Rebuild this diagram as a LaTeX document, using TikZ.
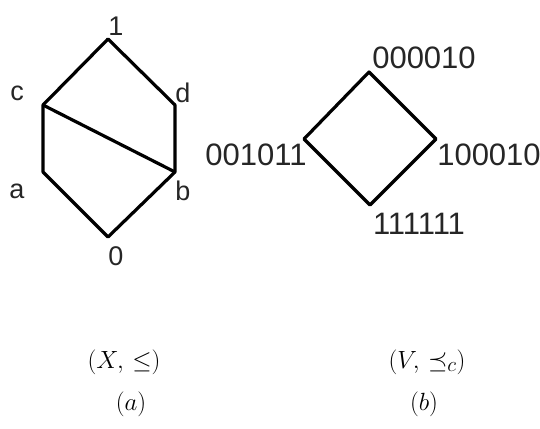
\documentclass[tikz,border=0pt]{standalone}
\usepackage{amsmath,amssymb}
\usepackage{fontspec}
\setsansfont{Liberation Sans}
\usepackage{tikz}
\usetikzlibrary{positioning,calc}
\usepackage{xcolor}

\begin{document}
\begin{tikzpicture}[x=1pt,y=-1pt,line width=3.2pt,
  elem/.style={font=\sffamily\fontsize{27}{31}\selectfont,text=black!85,inner sep=0pt},
  word/.style={font=\sffamily\fontsize{31}{36}\selectfont,text=black!85,inner sep=0pt},
  caption/.style={font=\fontsize{31}{37}\selectfont,inner sep=0pt}]
\useasboundingbox (0,0) rectangle (540,428);
% (a) the lattice X
\coordinate (one) at (108,39);
\coordinate (c) at (43,105);
\coordinate (d) at (175,105);
\coordinate (a) at (43,172);
\coordinate (b) at (175,172);
\coordinate (zero) at (108,237);
\draw[line join=round] (c) -- (one) -- (d) -- (b) -- (zero) -- (a) -- cycle;
\draw (c) -- (b);
\node[elem] (lone) at (116,26) {1};
\node[elem] (lc) at (17,93) {c};
\node[elem] (ld) at (183,93) {d};
\node[elem] (la) at (17,191) {a};
\node[elem] (lb) at (183,191) {b};
\node[elem] (lzero) at (116,256) {0};
% (b) the order on V
\coordinate (top) at (369,72);
\coordinate (lft) at (304,139);
\coordinate (rgt) at (436,139);
\coordinate (bot) at (370,205);
\draw[line join=round] (top) -- (rgt) -- (bot) -- (lft) -- cycle;
\node[word] (ltop) at (424,58) {000010};
\node[word] (llft) at (256,155) {001011};
\node[word] (lrgt) at (489,155) {100010};
\node[word] (lbot) at (419,224) {111111};
% captions
\node[caption] (capX) at (124,362) {$(X,\,\leq)$};
\node[caption] (capa) at (131,404) {$(a)$};
\node[caption] (capV) at (427,362) {$(V,\,\preceq_c)$};
\node[caption] (capb) at (424,404) {$(b)$};
\end{tikzpicture}
\end{document}
